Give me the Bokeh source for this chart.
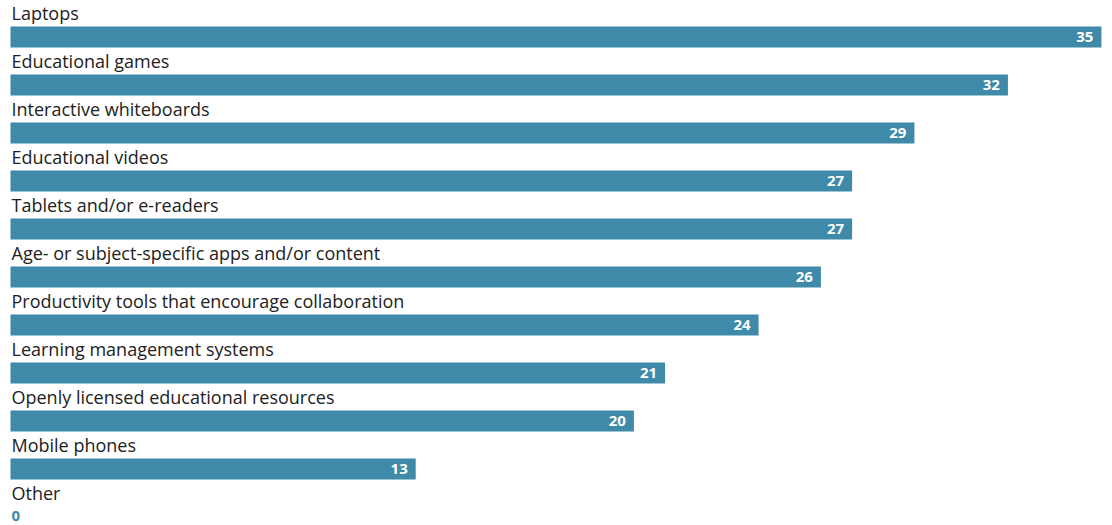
from bokeh.plotting import figure
from bokeh.models import ColumnDataSource, Range1d
from bokeh.core.properties import value
from bokeh.embed import file_html
from bokeh.resources import INLINE

categories = [
    "Laptops",
    "Educational games",
    "Interactive whiteboards",
    "Educational videos",
    "Tablets and/or e-readers",
    "Age- or subject-specific apps and/or content",
    "Productivity tools that encourage collaboration",
    "Learning management systems",
    "Openly licensed educational resources",
    "Mobile phones",
    "Other",
]
values = [35, 32, 29, 27, 27, 26, 24, 21, 20, 13, 0]

BAR = "#3e8aa8"
W, H = 1104, 525
px_per_unit = 31.17
row_px = 48.0
x0 = -10 / px_per_unit
x1 = x0 + W / px_per_unit
y_top = -36.5 / row_px
y_bot = y_top + H / row_px

rows = list(range(len(categories)))
src = ColumnDataSource(dict(
    y=rows,
    v=values,
    cat=categories,
))

p = figure(width=W, height=H, output_backend="svg", toolbar_location=None,
           x_range=Range1d(x0, x1), y_range=Range1d(y_bot, y_top),
           min_border=0, outline_line_color=None)
p.axis.visible = False
p.grid.visible = False
p.background_fill_color = "white"
p.border_fill_color = "white"

p.hbar(y="y", left=0, right="v", height=21 / row_px, source=src,
       fill_color=BAR, line_color=None)

p.text(x=0, y="y", text="cat", source=src, x_offset=1, y_offset=-24,
       text_font=value("Open Sans"), text_font_size="18px",
       text_color="#222222", text_baseline="alphabetic", text_align="left")

pos = [i for i, v in enumerate(values) if v > 0]
zero = [i for i, v in enumerate(values) if v == 0]
src_pos = ColumnDataSource(dict(y=[rows[i] for i in pos], v=[values[i] for i in pos],
                                lbl=[str(values[i]) for i in pos]))
src_zero = ColumnDataSource(dict(y=[rows[i] for i in zero], v=[values[i] for i in zero],
                                 lbl=[str(values[i]) for i in zero]))

p.text(x="v", y="y", text="lbl", source=src_pos, x_offset=-8, y_offset=0,
       text_font=value("Open Sans"), text_font_size="15px", text_font_style="bold",
       text_color="white", text_baseline="middle", text_align="right")
p.text(x="v", y="y", text="lbl", source=src_zero, x_offset=1, y_offset=-1,
       text_font=value("Open Sans"), text_font_size="15px", text_font_style="bold",
       text_color=BAR, text_baseline="middle", text_align="left")

open("out.html", "w").write(file_html(p, INLINE))
